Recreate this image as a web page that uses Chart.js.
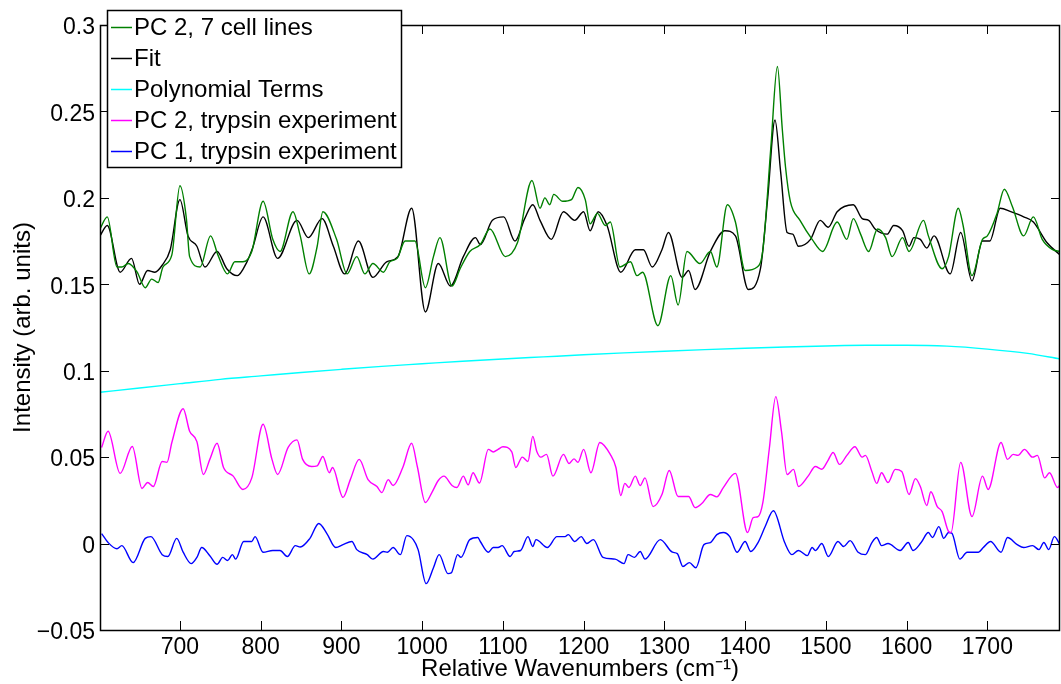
<!DOCTYPE html>
<html>
<head>
<meta charset="utf-8">
<script src="https://cdn.jsdelivr.net/npm/chart.js@4/dist/chart.umd.min.js"></script>
<style>
  html, body { margin: 0; padding: 0; background: #fff; }
  canvas { display: block; }
</style>
</head>
<body>
<canvas id="chart" width="1061" height="684"></canvas>
<script>
// wavenumber ranges (cm^-1) and tick values
const xMin = 601
const xMax = 1790
const xTicks = [700, 800, 900, 1000, 1100, 1200, 1300, 1400, 1500, 1600, 1700]
const yTicks = [-0.05, 0, 0.05, 0.1, 0.15, 0.2, 0.25, 0.3]

const seriesNames = ['PC 2, 7 cell lines', 'Fit', 'Polynomial Terms', 'PC 2, trypsin experiment', 'PC 1, trypsin experiment']
const seriesColors = ['#008000', '#000000', '#00ffff', '#ff00ff', '#0000ff']

// PC 2, 7 cell lines
const cellLinesX = [601, 610, 622, 628, 636, 647, 657, 665, 673, 679, 690, 700, 708, 712, 725, 738, 747, 759, 768, 778,
  789, 803, 815, 824, 840, 849, 860, 870, 877, 894, 907, 919, 929, 939, 952, 960, 969, 979, 991, 1004,
  1014, 1022, 1037, 1047, 1059, 1072, 1084, 1103, 1118, 1136, 1146, 1152, 1158, 1163, 1174, 1185, 1193, 1202, 1208, 1217,
  1227, 1233, 1245, 1258, 1266, 1273, 1292, 1308, 1317, 1328, 1344, 1357, 1365, 1378, 1388, 1400, 1415, 1422, 1432, 1440,
  1446, 1450, 1456, 1468, 1483, 1496, 1514, 1526, 1534, 1543, 1553, 1564, 1574, 1582, 1595, 1603, 1621, 1627, 1644, 1652,
  1664, 1670, 1681, 1694, 1700, 1712, 1721, 1731, 1745, 1757, 1768, 1781, 1790]
const cellLinesPC2 = [0.182, 0.189, 0.160, 0.160, 0.162, 0.157, 0.148, 0.153, 0.151, 0.160, 0.167, 0.207, 0.188, 0.166, 0.160, 0.178, 0.167, 0.156, 0.163, 0.163,
  0.169, 0.198, 0.176, 0.169, 0.192, 0.178, 0.156, 0.172, 0.192, 0.176, 0.156, 0.166, 0.156, 0.162, 0.157, 0.163, 0.165, 0.175, 0.175, 0.148,
  0.166, 0.177, 0.149, 0.159, 0.169, 0.173, 0.182, 0.166, 0.174, 0.210, 0.194, 0.200, 0.196, 0.202, 0.198, 0.199, 0.206, 0.199, 0.185, 0.191,
  0.184, 0.186, 0.160, 0.163, 0.155, 0.157, 0.126, 0.155, 0.138, 0.169, 0.162, 0.169, 0.160, 0.196, 0.186, 0.158, 0.160, 0.170, 0.230, 0.276,
  0.240, 0.218, 0.198, 0.187, 0.176, 0.169, 0.186, 0.176, 0.188, 0.179, 0.169, 0.182, 0.177, 0.166, 0.177, 0.169, 0.187, 0.178, 0.159, 0.166,
  0.194, 0.184, 0.155, 0.176, 0.178, 0.191, 0.205, 0.195, 0.178, 0.189, 0.176, 0.170, 0.169]

// Fit
const fitX = [601, 610, 626, 640, 650, 660, 669, 678, 688, 700, 710, 721, 731, 746, 758, 771, 783, 790, 803, 821,
  845, 859, 876, 890, 904, 921, 939, 956, 970, 987, 1004, 1020, 1035, 1051, 1066, 1072, 1087, 1101, 1115, 1127,
  1137, 1146, 1160, 1175, 1189, 1200, 1208, 1218, 1229, 1246, 1264, 1274, 1285, 1297, 1305, 1322, 1330, 1338, 1357, 1375,
  1388, 1404, 1419, 1428, 1437, 1444, 1452, 1459, 1466, 1481, 1493, 1503, 1514, 1534, 1545, 1553, 1561, 1576, 1584, 1595,
  1603, 1609, 1617, 1625, 1634, 1654, 1667, 1681, 1694, 1703, 1716, 1729, 1745, 1757, 1774, 1790]
const fitY = [0.178, 0.184, 0.157, 0.165, 0.150, 0.158, 0.157, 0.161, 0.170, 0.199, 0.178, 0.172, 0.160, 0.169, 0.159, 0.155, 0.163, 0.171, 0.189, 0.165,
  0.187, 0.177, 0.188, 0.172, 0.156, 0.175, 0.154, 0.163, 0.166, 0.194, 0.134, 0.162, 0.149, 0.166, 0.177, 0.173, 0.187, 0.189, 0.175, 0.188,
  0.196, 0.187, 0.176, 0.192, 0.187, 0.192, 0.181, 0.192, 0.184, 0.157, 0.170, 0.170, 0.160, 0.170, 0.180, 0.154, 0.158, 0.147, 0.169, 0.181,
  0.178, 0.147, 0.159, 0.200, 0.245, 0.215, 0.180, 0.179, 0.172, 0.176, 0.187, 0.183, 0.192, 0.196, 0.188, 0.187, 0.182, 0.179, 0.184, 0.181,
  0.172, 0.177, 0.176, 0.171, 0.178, 0.156, 0.180, 0.152, 0.175, 0.175, 0.194, 0.192, 0.189, 0.186, 0.174, 0.167]

// Polynomial Terms
const polyX = [601, 650, 700, 750, 800, 850, 900, 950, 1000, 1050, 1100, 1150, 1200, 1250, 1300, 1350, 1400, 1450, 1500, 1550,
  1600, 1650, 1700, 1750, 1790]
const polyY = [0.0875, 0.0900, 0.0925, 0.0950, 0.0970, 0.0990, 0.1008, 0.1025, 0.1040, 0.1055, 0.1068, 0.1080, 0.1092, 0.1103, 0.1113, 0.1122, 0.1130, 0.1137, 0.1143, 0.1147,
  0.1147, 0.1142, 0.1125, 0.1100, 0.1068]

// PC 2, trypsin experiment
const trypsinPC2X = [603, 611, 626, 641, 653, 660, 667, 678, 684, 690, 704, 712, 721, 729, 737, 746, 754, 766, 778, 789,
  803, 814, 821, 834, 845, 852, 863, 870, 877, 885, 889, 902, 911, 922, 933, 944, 950, 958, 964, 976,
  987, 994, 1004, 1012, 1020, 1027, 1037, 1043, 1051, 1057, 1063, 1071, 1082, 1088, 1094, 1100, 1111, 1116, 1124, 1131,
  1137, 1142, 1147, 1154, 1162, 1175, 1182, 1188, 1193, 1200, 1209, 1220, 1233, 1240, 1246, 1251, 1256, 1264, 1270, 1276,
  1286, 1297, 1306, 1317, 1330, 1338, 1346, 1357, 1365, 1373, 1388, 1403, 1410, 1416, 1422, 1430, 1438, 1445, 1452, 1460,
  1466, 1478, 1487, 1495, 1502, 1509, 1517, 1526, 1536, 1545, 1549, 1557, 1563, 1569, 1577, 1586, 1594, 1603, 1611, 1617,
  1625, 1630, 1638, 1644, 1652, 1655, 1667, 1681, 1694, 1701, 1717, 1725, 1732, 1738, 1746, 1756, 1762, 1771, 1777, 1787, 1790]
const trypsinPC2 = [0.0556, 0.0650, 0.0406, 0.0562, 0.0319, 0.0353, 0.0330, 0.0475, 0.0470, 0.0585, 0.0780, 0.0650, 0.0590, 0.0400, 0.0487, 0.0580, 0.0440, 0.0390, 0.0313, 0.0380,
  0.0690, 0.0487, 0.0400, 0.0556, 0.0600, 0.0487, 0.0446, 0.0450, 0.0504, 0.0410, 0.0440, 0.0267, 0.0370, 0.0487, 0.0370, 0.0330, 0.0295, 0.0370, 0.0336, 0.0440,
  0.0580, 0.0446, 0.0238, 0.0295, 0.0365, 0.0390, 0.0336, 0.0324, 0.0390, 0.0340, 0.0410, 0.0350, 0.0545, 0.0530, 0.0545, 0.0560, 0.0530, 0.0440, 0.0500, 0.0475,
  0.0620, 0.0533, 0.0500, 0.0516, 0.0390, 0.0516, 0.0463, 0.0490, 0.0470, 0.0545, 0.0410, 0.0585, 0.0516, 0.0440, 0.0278, 0.0348, 0.0324, 0.0390, 0.0336, 0.0380,
  0.0214, 0.0284, 0.0423, 0.0272, 0.0272, 0.0208, 0.0230, 0.0284, 0.0270, 0.0324, 0.0406, 0.0064, 0.0150, 0.0156, 0.0238, 0.0550, 0.0850, 0.0650, 0.0400, 0.0429,
  0.0330, 0.0390, 0.0446, 0.0430, 0.0475, 0.0527, 0.0458, 0.0510, 0.0560, 0.0500, 0.0510, 0.0417, 0.0348, 0.0410, 0.0353, 0.0429, 0.0417, 0.0284, 0.0376, 0.0330,
  0.0220, 0.0300, 0.0214, 0.0185, 0.0070, 0.0064, 0.0470, 0.0156, 0.0390, 0.0313, 0.0585, 0.0487, 0.0516, 0.0510, 0.0545, 0.0500, 0.0510, 0.0380, 0.0410, 0.0324, 0.0340]

// PC 1, trypsin experiment
const trypsinPC1X = [603, 611, 622, 628, 642, 657, 664, 678, 685, 696, 704, 714, 721, 727, 737, 746, 753, 759, 765, 769,
  779, 789, 793, 803, 815, 824, 833, 843, 849, 861, 872, 882, 893, 902, 913, 919, 932, 939, 952, 957,
  964, 973, 981, 989, 995, 1005, 1014, 1021, 1032, 1036, 1044, 1048, 1059, 1069, 1072, 1082, 1088, 1094, 1099, 1109,
  1114, 1122, 1131, 1137, 1141, 1155, 1167, 1177, 1181, 1189, 1197, 1204, 1212, 1224, 1239, 1250, 1255, 1263, 1270, 1276,
  1295, 1310, 1316, 1323, 1331, 1339, 1349, 1357, 1365, 1373, 1381, 1390, 1400, 1407, 1416, 1425, 1435, 1449, 1458, 1466,
  1477, 1483, 1487, 1495, 1503, 1515, 1522, 1530, 1540, 1549, 1557, 1563, 1569, 1577, 1592, 1602, 1608, 1618, 1627, 1632,
  1640, 1646, 1652, 1656, 1666, 1675, 1689, 1695, 1704, 1717, 1725, 1737, 1745, 1756, 1764, 1770, 1776, 1783, 1790]
const trypsinPC1 = [0.0058, 0.0006, -0.0030, -0.0012, -0.0110, 0.0030, 0.0040, -0.0064, -0.0075, 0.0030, -0.0050, -0.0116, -0.0080, -0.0023, -0.0070, -0.0120, -0.0080, -0.0098, -0.0064, -0.0090,
  0.0012, 0.0012, 0.0040, -0.0050, -0.0040, -0.0040, -0.0075, -0.0012, -0.0020, 0.0030, 0.0116, 0.0058, -0.0023, -0.0006, 0.0012, -0.0035, -0.0064, -0.0090, -0.0046, -0.0050,
  -0.0023, -0.0064, 0.0046, 0.0023, -0.0035, -0.0232, -0.0140, -0.0064, -0.0174, -0.0170, -0.0064, -0.0080, 0.0023, 0.0035, 0.0012, -0.0050, -0.0023, -0.0023, -0.0012, -0.0075,
  -0.0046, -0.0040, 0.0040, -0.0017, 0.0023, -0.0023, 0.0040, 0.0040, 0.0052, 0.0012, 0.0040, 0.0000, 0.0023, -0.0080, -0.0090, -0.0116, -0.0064, -0.0080, -0.0046, -0.0090,
  0.0023, -0.0050, -0.0058, -0.0133, -0.0110, -0.0140, -0.0006, 0.0006, 0.0052, 0.0064, 0.0040, -0.0050, 0.0012, -0.0046, 0.0006, 0.0100, 0.0190, 0.0006, -0.0064, -0.0040,
  -0.0070, -0.0023, -0.0040, 0.0000, -0.0075, 0.0012, -0.0017, 0.0017, -0.0050, -0.0064, 0.0006, 0.0035, -0.0012, 0.0000, -0.0040, 0.0006, -0.0040, 0.0006, 0.0064, 0.0035,
  0.0098, 0.0030, 0.0064, 0.0060, -0.0090, -0.0050, -0.0050, -0.0023, 0.0012, -0.0050, 0.0035, -0.0006, -0.0023, -0.0012, -0.0035, 0.0006, -0.0035, 0.0040, -0.0006]

const seriesX = [cellLinesX, fitX, polyX, trypsinPC2X, trypsinPC1X]
const seriesY = [cellLinesPC2, fitY, polyY, trypsinPC2, trypsinPC1]

const FONT = "'Liberation Sans', Arial, Helvetica, sans-serif"

function points(xs, ys) {
    return xs.map((x, i) => ({ x: x, y: ys[i] }))
}

// matlab style box: frame, inward ticks, legend box
const matlabBox = {
    id: 'matlabBox',
    afterDraw(chart) {
        const { ctx, chartArea, scales } = chart
        const { left, right, top, bottom } = chartArea
        const len = 9
        ctx.save()
        ctx.strokeStyle = '#000'
        ctx.lineWidth = 1
        ctx.beginPath()
        for (const t of scales.x.ticks) {
            const px = Math.round(scales.x.getPixelForValue(t.value)) + 0.5
            ctx.moveTo(px, bottom); ctx.lineTo(px, bottom - len)
            ctx.moveTo(px, top); ctx.lineTo(px, top + len)
        }
        for (const t of scales.y.ticks) {
            const py = Math.round(scales.y.getPixelForValue(t.value)) + 0.5
            ctx.moveTo(left, py); ctx.lineTo(left + len, py)
            ctx.moveTo(right, py); ctx.lineTo(right - len, py)
        }
        ctx.stroke()
        ctx.lineWidth = 1.5
        ctx.strokeRect(Math.round(left) + 0.5, Math.round(top) + 0.5, Math.round(right - left) - 1, Math.round(bottom - top))

        // legend
        const box = { x: 107.5, y: 10.5, w: 294, h: 157 }
        ctx.fillStyle = '#fff'
        ctx.fillRect(box.x, box.y, box.w, box.h)
        ctx.lineWidth = 1.5
        ctx.strokeRect(box.x, box.y, box.w, box.h)
        ctx.font = '24px ' + FONT
        ctx.textBaseline = 'middle'
        chart.data.datasets.forEach((ds, i) => {
            const cy = 27 + i * 31
            ctx.strokeStyle = ds.borderColor
            ctx.lineWidth = 1.5
            ctx.beginPath()
            ctx.moveTo(111, cy + 0.5); ctx.lineTo(132, cy + 0.5)
            ctx.stroke()
            ctx.fillStyle = '#000'
            ctx.fillText(ds.label, 134, cy + 1)
        })
        ctx.restore()
    }
}

const datasets = seriesNames.map((name, i) => ({
    label: name,
    data: points(seriesX[i], seriesY[i]),
    borderColor: seriesColors[i],
    borderWidth: 1.4,
    pointRadius: 0,
    fill: false,
    cubicInterpolationMode: 'monotone'
}))

new Chart(document.getElementById('chart'), {
    type: 'line',
    data: { datasets: datasets },
    options: {
        responsive: false,
        animation: false,
        layout: { padding: { top: 25, right: 1, left: 0, bottom: 0 } },
        plugins: {
            legend: { display: false },
            tooltip: { enabled: false }
        },
        scales: {
            x: {
                type: 'linear',
                min: xMin,
                max: xMax,
                grid: { display: false, drawTicks: false },
                border: { display: false },
                afterBuildTicks: (scale) => {
                    scale.ticks = xTicks.map(v => ({ value: v }))
                },
                afterFit: (scale) => { scale.height = 54 },
                ticks: {
                    color: '#000',
                    padding: 4,
                    maxRotation: 0,
                    font: { family: FONT, size: 23 },
                    callback: (v) => String(v)
                },
                title: {
                    display: true,
                    text: 'Relative Wavenumbers (cm\u207B\u00B9)',
                    color: '#000',
                    font: { family: FONT, size: 24 },
                    padding: { top: 0, bottom: 0 }
                }
            },
            y: {
                min: -0.05,
                max: 0.3,
                grid: { display: false, drawTicks: false },
                border: { display: false },
                afterBuildTicks: (scale) => {
                    scale.ticks = yTicks.map(v => ({ value: v }))
                },
                afterFit: (scale) => { scale.width = 100 },
                ticks: {
                    color: '#000',
                    padding: 5,
                    labelOffset: 3,
                    font: { family: FONT, size: 23 },
                    callback: (v) => {
                        const r = Math.round(v * 100) / 100
                        return r < 0 ? '\u2212' + String(-r) : String(r)
                    }
                },
                title: {
                    display: true,
                    text: 'Intensity (arb. units)',
                    color: '#000',
                    font: { family: FONT, size: 24 },
                    padding: { top: 9, bottom: 0 }
                }
            }
        }
    },
    plugins: [matlabBox]
})
</script>
</body>
</html>
